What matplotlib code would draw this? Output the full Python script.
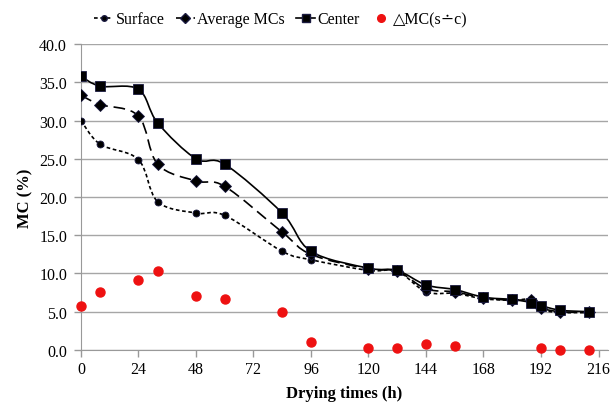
import matplotlib
matplotlib.use("Agg")
import matplotlib.pyplot as plt
from matplotlib.path import Path
from matplotlib.patches import PathPatch
from matplotlib.lines import Line2D

plt.rcParams['font.family'] = ['Liberation Serif', 'DejaVu Serif']

hours = [0, 8, 24, 32, 48, 60, 84, 96, 120, 132, 144, 156, 168, 180, 188, 192, 200, 212]
surface = [30.0, 26.9, 24.9, 19.4, 17.9, 17.6, 12.9, 11.8, 10.4, 10.3, 7.6, 7.4, 6.7, 6.5, 6.6, 5.3, 4.9, 4.9]
average = [33.3, 32.1, 30.6, 24.3, 22.1, 21.4, 15.4, 12.5, 10.6, 10.3, 8.0, 7.6, 6.8, 6.5, 6.5, 5.5, 5.0, 4.9]
center = [35.8, 34.5, 34.1, 29.7, 25.0, 24.3, 17.9, 12.9, 10.7, 10.4, 8.5, 7.9, 6.9, 6.6, 6.2, 5.8, 5.2, 5.0]

diff_hours = [0, 8, 24, 32, 48, 60, 84, 96, 120, 132, 144, 156, 192, 200, 212]
diff_mc = [5.8, 7.6, 9.2, 10.3, 7.1, 6.7, 5.0, 1.1, 0.3, 0.2, 0.8, 0.5, 0.3, 0.0, 0.0]


def smooth_path(xs, ys):
    # excel-like smoothed line: catmull-rom turned into cubic beziers
    verts = [(xs[0], ys[0])]
    codes = [Path.MOVETO]
    n = len(xs)
    for i in range(n - 1):
        x0, y0 = (xs[i - 1], ys[i - 1]) if i > 0 else (xs[i], ys[i])
        x1, y1 = xs[i], ys[i]
        x2, y2 = xs[i + 1], ys[i + 1]
        x3, y3 = (xs[i + 2], ys[i + 2]) if i + 2 < n else (x2, y2)
        c1 = (x1 + (x2 - x0) / 6, y1 + (y2 - y0) / 6)
        c2 = (x2 - (x3 - x1) / 6, y2 - (y3 - y1) / 6)
        verts += [c1, c2, (x2, y2)]
        codes += [Path.CURVE4] * 3
    return Path(verts, codes)


fig = plt.figure(figsize=(6.13, 4.10), dpi=100)
ax = fig.add_axes([0.132, 0.144, 0.860, 0.746])

styles = [
    (surface, "Surface", "o", 5, (0, (2.2, 1.6))),
    (average, "Average MCs", "D", 6, (0, (7, 3.5))),
    (center, "Center", "s", 7, "-"),
]
handles = []
for vals, name, mk, ms, ls in styles:
    ax.add_patch(PathPatch(smooth_path(hours, vals), fill=False, edgecolor="black",
                           linewidth=1.2, linestyle=ls, zorder=3))
    ax.plot(hours, vals, linestyle="none", marker=mk, markersize=ms, color="black",
            markeredgecolor="#1a1a40", markeredgewidth=0.6, zorder=4)
    handles.append(Line2D([], [], color="black", linewidth=1.2, linestyle=ls, marker=mk,
                          markersize=ms - 1, markeredgecolor="#1a1a40"))

ax.plot(diff_hours, diff_mc, linestyle="none", marker="o", markersize=6.5,
        color="#ee1111", zorder=5, clip_on=False)
handles.append(Line2D([], [], linestyle="none", marker="o", markersize=5.5, color="#ee1111"))

ax.set_xlim(0, 220)
ax.set_ylim(0, 40)
ax.set_xticks(range(0, 217, 24))
ax.set_yticks(range(0, 41, 5))
ax.set_yticklabels(["%.1f" % v for v in range(0, 41, 5)])
ax.tick_params(labelsize=11.5, colors="#999999", labelcolor="black", length=5, width=1)
ax.tick_params(axis="y", pad=5)
ax.tick_params(axis="x", pad=3)
ax.grid(axis="y", color="#a6a6a6", linewidth=1)
ax.set_axisbelow(True)
for s in ["top", "right"]:
    ax.spines[s].set_visible(False)
for s in ["left", "bottom"]:
    ax.spines[s].set_color("#999999")

ax.set_xlabel("Drying times (h)", fontsize=12, fontweight="bold", labelpad=6)
ax.set_ylabel("MC (%)", fontsize=12, fontweight="bold", labelpad=4)

fig.legend(handles, ["Surface", "Average MCs", "Center", "\u25b3MC(s\u2238c)"],
           loc="upper left", bbox_to_anchor=(0.13, 1.005), ncol=4, frameon=False,
           fontsize=11.5, handlelength=1.2, handletextpad=0.15, columnspacing=0.7)

fig.savefig("out.png", dpi=100)
